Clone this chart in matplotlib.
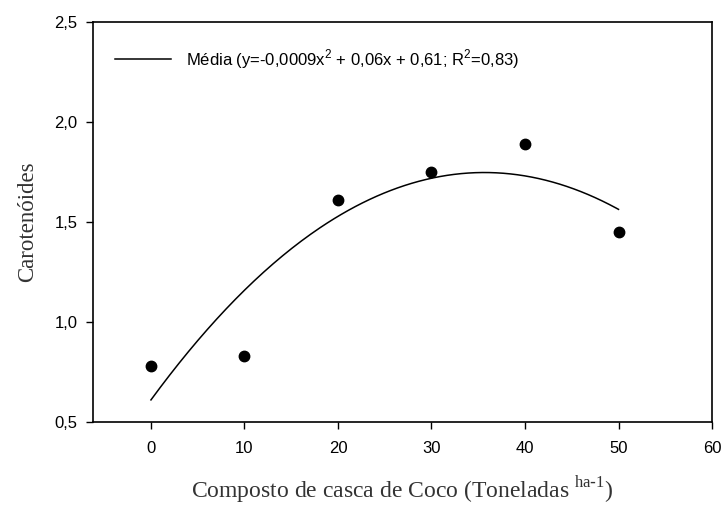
import numpy as np
import matplotlib
matplotlib.use('Agg')
import matplotlib.pyplot as plt

# dados
doses = [0, 10, 20, 30, 40, 50]
carotenoides = [0.78, 0.83, 1.61, 1.75, 1.89, 1.45]

x_ticks = [0, 10, 20, 30, 40, 50, 60]
y_ticks = [0.5, 1.0, 1.5, 2.0, 2.5]
y_tick_labels = ['0,5', '1,0', '1,5', '2,0', '2,5']

legenda = r'Média (y=-0,0009x$^{\mathregular{2}}$ + 0,06x + 0,61; R$^{\mathregular{2}}$=0,83)'

plt.rcParams['font.family'] = ['Liberation Sans', 'DejaVu Sans']

fig = plt.figure(figsize=(7.23, 5.05), dpi=100)
ax = fig.add_axes([0.1286, 0.1644, 0.8562, 0.792])

# ajuste polinomial de 2o grau
coef = np.polyfit(doses, carotenoides, 2)
xs = np.linspace(min(doses), max(doses), 200)
ax.plot(xs, np.polyval(coef, xs), color='black', lw=1.1, label=legenda)
ax.plot(doses, carotenoides, 'o', color='black', markersize=7.5, zorder=3)

ax.set_xlim(-6.2, 60)
ax.set_ylim(0.5, 2.5)
ax.set_xticks(x_ticks)
ax.set_yticks(y_ticks)
ax.set_yticklabels(y_tick_labels)
ax.tick_params(direction='out', length=5, width=1, labelsize=12, pad=6)
ax.tick_params(axis='x', pad=9)

for s in ax.spines.values():
    s.set_linewidth(1.2)

ax.set_xlabel(r'Composto de casca de Coco (Toneladas $^{\mathregular{ha\text{-}1}}$)',
              family='Liberation Serif', fontsize=17, color='#333333', labelpad=13)
ax.set_ylabel('Carotenóides', family='Liberation Serif', fontsize=16.5,
              color='#333333', labelpad=12)

ax.legend(loc='upper left', frameon=False, fontsize=12, handlelength=3.4,
          bbox_to_anchor=(0.011, 0.975), handletextpad=0.85)

fig.savefig('out.png', dpi=100)
